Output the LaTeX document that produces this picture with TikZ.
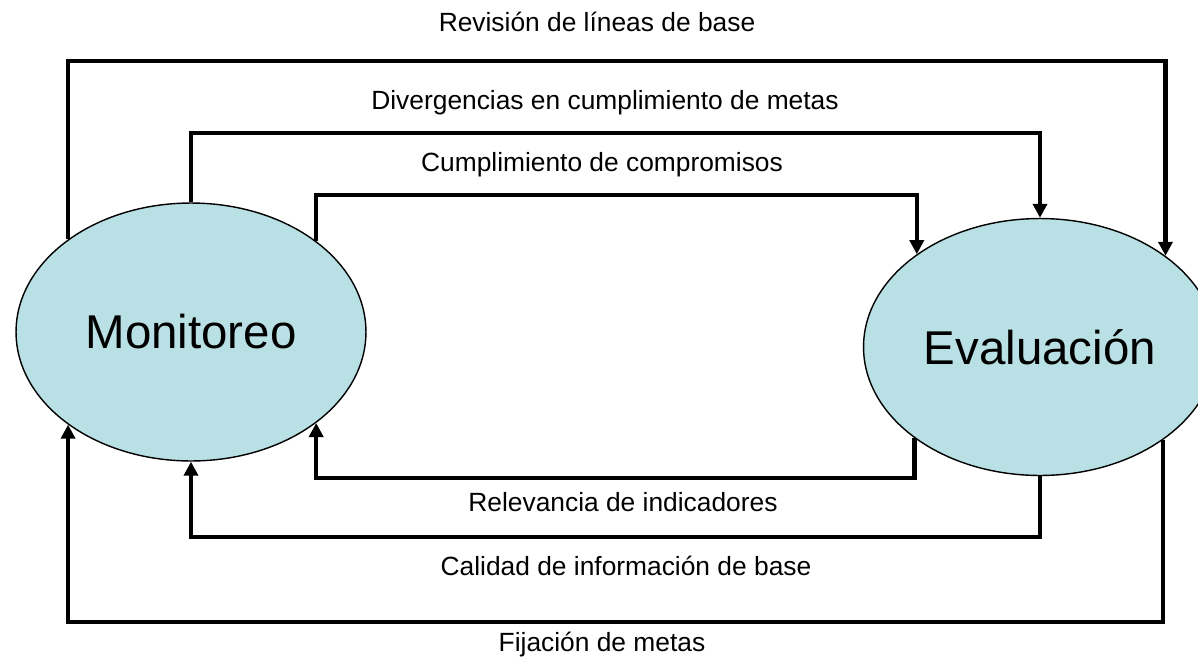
\documentclass[tikz,border=0pt]{standalone}
\usepackage{fontspec}
\setmainfont{Liberation Sans}
\usetikzlibrary{arrows.meta,shapes.geometric}
\definecolor{celeste}{RGB}{185,224,228}

\begin{document}
\begin{tikzpicture}[x=0.02cm,y=-0.02cm,
    >={Triangle[length=8pt,width=8pt]},line width=2.5pt,
    fase/.style={ellipse,draw,line width=0.8pt,fill=celeste,inner sep=0pt,
      font=\fontsize{27}{30}\selectfont},
    etiq/.style={font=\fontsize{15}{18}\selectfont}]

  \useasboundingbox (0,0) rectangle (1198,660);

  \node[fase,minimum width=7cm,minimum height=5.16cm] (mon) at (191,332) {Monitoreo};
  \node[fase,minimum width=7.06cm,minimum height=5.14cm] (eva) at (1040,347) {Evaluación};

  % alturas de las lineas
  \coordinate (h1) at (0,61);
  \coordinate (h2) at (0,133);
  \coordinate (h3) at (0,195);
  \coordinate (h4) at (0,478);
  \coordinate (h5) at (0,537);
  \coordinate (h6) at (0,622);

  \draw[->] (mon.143.2) |- (eva.36.6 |- h1) -- (eva.36.6);
  \draw[->] (mon.north) |- (eva.north |- h2) -- (eva.north);
  \draw[->] (mon.36.1) |- (eva.143.4 |- h3) -- (eva.143.4);

  \draw[->] (eva.216.6) |- (mon.324.2 |- h4) -- (mon.324.2);
  \draw[->] (eva.south) |- (mon.south |- h5) -- (mon.south);
  \draw[->] (eva.323.4) |- (mon.217.1 |- h6) -- (mon.217.1);

  \node[etiq] (l1) at (597,22) {Revisión de líneas de base};
  \node[etiq] (l2) at (605,103) {Divergencias en cumplimiento de metas};
  \node[etiq] (l3) at (602,165) {Cumplimiento de compromisos};
  \node[etiq] (l4) at (623,502) {Relevancia de indicadores};
  \node[etiq] (l5) at (626,566) {Calidad de información de base};
  \node[etiq] (l6) at (602,645) {Fijación de metas};

\end{tikzpicture}
\end{document}
